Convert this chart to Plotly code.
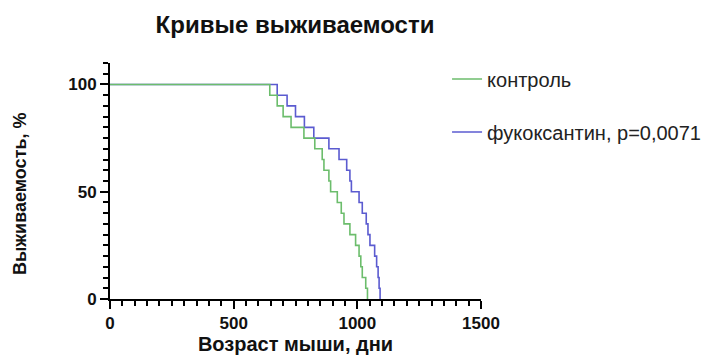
import plotly.graph_objects as go

# Kaplan-Meier step data (days, survival %)
survival_pct = [100, 95, 90, 85, 80, 75, 70, 65, 60, 55, 50, 45, 40, 35, 30, 25, 20, 15, 10, 5, 0]
control_days = [0, 646, 676, 700, 732, 784, 828, 858, 865, 885, 892, 919, 935, 946, 970, 993, 1007, 1014, 1020, 1034, 1041]
fuco_days = [0, 676, 716, 750, 786, 824, 885, 926, 957, 970, 976, 1007, 1020, 1036, 1043, 1051, 1070, 1078, 1084, 1088, 1092]

name_control = "контроль"
name_fuco = "фукоксантин, p=0,0071"
title = "Кривые выживаемости"
x_title = "Возраст мыши, дни"
y_title = "Выживаемость, %"

GREEN = "#6cbd6c"
BLUE = "#5b5bd0"
FONT = "Liberation Sans, Arial, sans-serif"

# page body adds an 8px offset; figure is sized to fill the rest of the window
W, H = 702, 352

fig = go.Figure()
fig.add_trace(go.Scatter(x=fuco_days, y=survival_pct, mode="lines", line_shape="hv",
                         line=dict(color=BLUE, width=1.6), name=name_fuco, legendgroup="b",
                         legendrank=2))
fig.add_trace(go.Scatter(x=control_days, y=survival_pct, mode="lines", line_shape="hv",
                         line=dict(color=GREEN, width=1.6), name=name_control, legendgroup="a",
                         legendrank=1))

fig.update_layout(
    width=W, height=H,
    margin=dict(l=102, r=229, t=55, b=61, autoexpand=False),
    paper_bgcolor="white", plot_bgcolor="white",
    font=dict(family=FONT, color="#222"),
    title=dict(text="<b>%s</b>" % title, x=287 / W, xanchor="center", y=1 - 17 / H, yanchor="middle",
               font=dict(size=24, color="#111")),
    legend=dict(x=0.9085, y=1.015, xanchor="left", yanchor="top", traceorder="grouped",
                tracegroupgap=24, font=dict(size=20, color="#222"), bgcolor="rgba(0,0,0,0)",
                itemwidth=30),
    showlegend=True,
    annotations=[dict(text="<b>%s</b>" % y_title, xref="paper", yref="paper", x=-0.2426, y=0.449,
                      xanchor="center", yanchor="middle", textangle=-90, showarrow=False,
                      font=dict(size=18, color="#111"))],
)
fig.update_xaxes(range=[0, 1500], tickvals=[0, 500, 1000, 1500], ticktext=["<b>0</b>", "<b>500</b>", "<b>1000</b>", "<b>1500</b>"],
                 showgrid=False, zeroline=False, showline=True, linecolor="black", linewidth=2,
                 ticks="outside", ticklen=8, tickwidth=2, tickcolor="black", automargin=False,
                 tickfont=dict(size=17, color="#111"),
                 minor=dict(dtick=50, ticklen=5, tickwidth=1.5, tickcolor="black", ticks="outside", showgrid=False),
                 title=dict(text="<b>%s</b>" % x_title, font=dict(size=20, color="#111"), standoff=4))
fig.update_yaxes(range=[0, 110], tickvals=[0, 50, 100], ticktext=["<b>0</b>", "<b>50</b>", "<b>100</b>"],
                 showgrid=False, zeroline=False, showline=True, linecolor="black", linewidth=2,
                 ticks="outside", ticklen=8, tickwidth=2, tickcolor="black", automargin=False,
                 tickfont=dict(size=17, color="#111"),
                 minor=dict(dtick=5, ticklen=5, tickwidth=1.5, tickcolor="black", ticks="outside", showgrid=False))

fig.write_html("out.html")
